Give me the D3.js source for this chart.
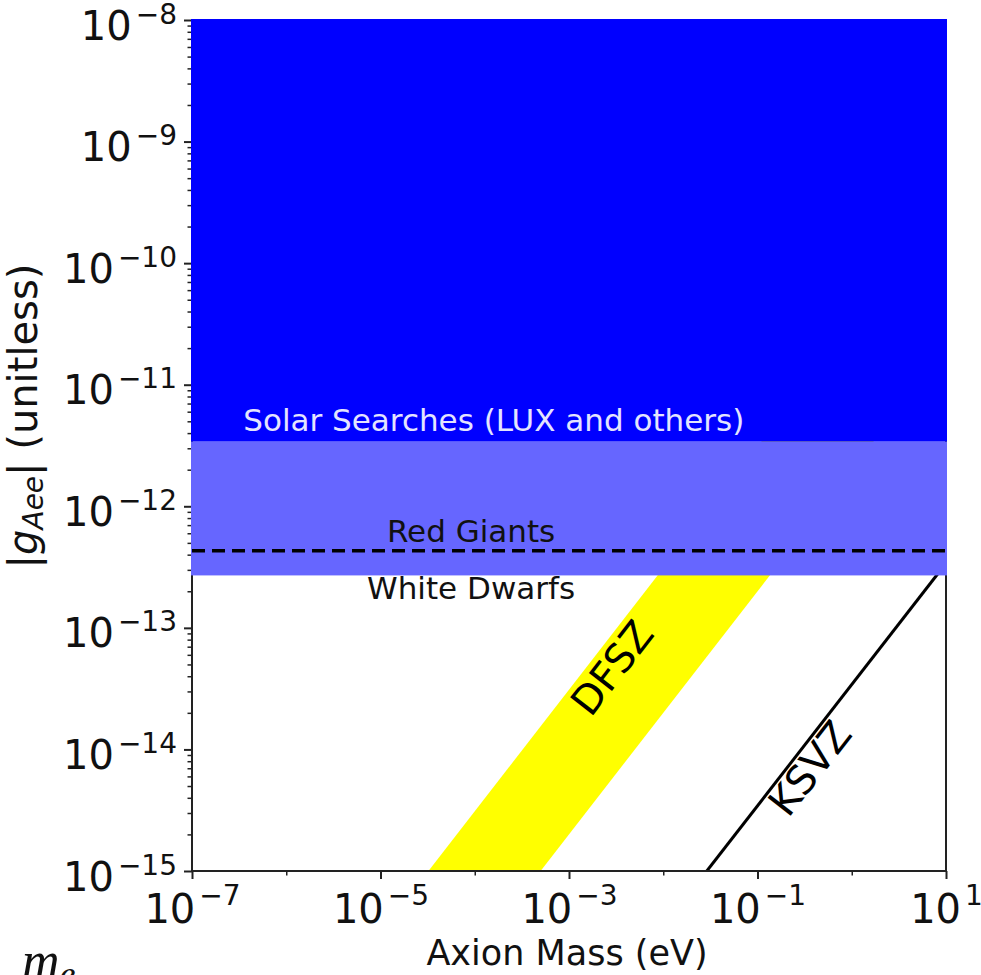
<!DOCTYPE html>
<html>
<head>
<meta charset="utf-8">
<script src="https://cdn.jsdelivr.net/npm/d3@7"></script>
<style>
  body { margin: 0; background: #fff; }
  svg { display: block; font-family: 'DejaVu Sans', sans-serif; }
</style>
</head>
<body>
<div id="chart"></div>
<script>
const WIDTH = 981;
const HEIGHT = 975;
const MARGIN = { top: 20, right: 35, bottom: 104, left: 192 };
const FONT = "'DejaVu Sans', sans-serif";

// tick decades
const xMajorExp = [-7, -5, -3, -1, 1];
const xMinorExp = [-6, -4, -2, 0];
const yMajorExp = [-8, -9, -10, -11, -12, -13, -14, -15];

// coupling limits |g_Aee|
const solarLimit = 3.4e-12; // solar searches (LUX and others)
const redGiantLimit = 4.3e-13;
const whiteDwarfLimit = 2.7e-13;

// DFSZ band: mass (eV), lower / upper coupling
const dfszMass = [3e-5, 10];
const dfszLow = [6e-17, 2.0e-11];
const dfszHigh = [9.3e-16, 3.1e-10];

// KSVZ line
const ksvzMass = [2.9e-2, 10];
const ksvzCoupling = [1e-15, 3.4e-13];

// text anchors in data space [mass, coupling]
const solarLabelPos = [3.5e-7, 4.2e-12];
const redGiantLabelPos = [1.17e-5, 5.1e-13];
const whiteDwarfLabelPos = [7.2e-6, 1.73e-13];
const dfszLabelPos = [2.86e-3, 4.68e-14];
const ksvzLabelPos = [0.36, 7.0e-15];

const innerW = WIDTH - MARGIN.left - MARGIN.right;
const innerH = HEIGHT - MARGIN.top - MARGIN.bottom;

const svg = d3.select('#chart').append('svg').attr('width', WIDTH).attr('height', HEIGHT);
svg.append('rect').attr('width', WIDTH).attr('height', HEIGHT).attr('fill', '#fff');

const x = d3.scaleLog().domain([1e-7, 10]).range([MARGIN.left, MARGIN.left + innerW]);
const y = d3.scaleLog().domain([1e-15, 1e-8]).range([MARGIN.top + innerH, MARGIN.top]);

svg.append('clipPath').attr('id', 'plot-clip')
  .append('rect')
  .attr('x', x.range()[0]).attr('y', y.range()[1])
  .attr('width', innerW).attr('height', innerH);

const plot = svg.append('g').attr('clip-path', 'url(#plot-clip)');

// DFSZ band
const band = dfszMass.map((m, i) => ({ m, lo: dfszLow[i], hi: dfszHigh[i] }));
plot.append('path')
  .datum(band)
  .attr('fill', '#ffff00')
  .attr('d', d3.area().x((d) => x(d.m)).y0((d) => y(d.lo)).y1((d) => y(d.hi)));

// KSVZ line
plot.append('path')
  .datum(ksvzMass.map((m, i) => ({ m, g: ksvzCoupling[i] })))
  .attr('fill', 'none')
  .attr('stroke', '#000')
  .attr('stroke-width', 3)
  .attr('d', d3.line().x((d) => x(d.m)).y((d) => y(d.g)));

// spines
svg.append('rect')
  .attr('x', x.range()[0]).attr('y', y.range()[1])
  .attr('width', innerW).attr('height', innerH)
  .attr('fill', 'none').attr('stroke', '#222').attr('stroke-width', 2);

// axes
const fmtSup = (sel, size, raise) => {
  sel.each(function (d) {
    const t = d3.select(this);
    const e = Math.round(Math.log10(d));
    t.text(null);
    t.append('tspan').text('10');
    t.append('tspan').attr('font-size', size).attr('dx', 4).attr('dy', -raise)
      .text(e < 0 ? `\u2212${-e}` : `${e}`);
  });
};

const xAxis = svg.append('g')
  .attr('transform', `translate(0,${y.range()[0]})`)
  .call(d3.axisBottom(x).tickValues(xMajorExp.map((e) => 10 ** e)).tickSize(8).tickSizeOuter(0));
xAxis.attr('font-family', FONT);
xAxis.select('.domain').remove();
xAxis.selectAll('.tick line').attr('stroke', '#222').attr('stroke-width', 2);
xAxis.selectAll('.tick text')
  .attr('y', 52).attr('dy', 0)
  .attr('font-size', 40).attr('fill', '#111')
  .call(fmtSup, 28, 18);

const xMinor = svg.append('g')
  .attr('transform', `translate(0,${y.range()[0]})`)
  .call(d3.axisBottom(x).tickValues(xMinorExp.map((e) => 10 ** e)).tickSize(4.5).tickFormat(''));
xMinor.select('.domain').remove();
xMinor.selectAll('.tick line').attr('stroke', '#222').attr('stroke-width', 1.5);

const yMajorVals = yMajorExp.map((e) => 10 ** e);
const yAxis = svg.append('g')
  .attr('transform', `translate(${x.range()[0]},0)`)
  .call(d3.axisLeft(y).tickValues(yMajorVals).tickSize(8).tickPadding(7));
yAxis.attr('font-family', FONT);
yAxis.select('.domain').remove();
yAxis.selectAll('.tick line').attr('stroke', '#222').attr('stroke-width', 2);
yAxis.selectAll('.tick text')
  .attr('dy', 19)
  .attr('font-size', 40).attr('fill', '#111')
  .call(fmtSup, 28, 16);

const yMinorVals = y.ticks().filter((v) => !yMajorVals.some((m) => Math.abs(m - v) / m < 1e-6));
const yMinor = svg.append('g')
  .attr('transform', `translate(${x.range()[0]},0)`)
  .call(d3.axisLeft(y).tickValues(yMinorVals).tickSize(4.5).tickFormat(''));
yMinor.select('.domain').remove();
yMinor.selectAll('.tick line').attr('stroke', '#222').attr('stroke-width', 1.5);

// excluded regions, drawn over spines like the original
const x0 = x.range()[0] - 1;
const x1 = x.range()[1] + 1;
svg.append('rect')
  .attr('x', x0).attr('width', x1 - x0)
  .attr('y', y(1e-8) - 1).attr('height', y(solarLimit) - y(1e-8) + 1)
  .attr('fill', '#0000ff');
svg.append('rect')
  .attr('x', x0).attr('width', x1 - x0)
  .attr('y', y(solarLimit)).attr('height', y(whiteDwarfLimit) - y(solarLimit))
  .attr('fill', '#6666ff');

// red giants dashed line
svg.append('line')
  .attr('x1', x.range()[0]).attr('x2', x.range()[1])
  .attr('y1', y(redGiantLimit)).attr('y2', y(redGiantLimit))
  .attr('stroke', '#000').attr('stroke-width', 3.5)
  .attr('stroke-dasharray', '13,7');

// labels
const label = (pos, txt, color) => svg.append('text')
  .attr('x', x(pos[0])).attr('y', y(pos[1]))
  .attr('font-size', 31).attr('fill', color)
  .text(txt);
label(solarLabelPos, 'Solar Searches (LUX and others)', '#e4e4ff');
label(redGiantLabelPos, 'Red Giants', '#111');
label(whiteDwarfLabelPos, 'White Dwarfs', '#111');

const slopeAngle = (ms, gs) => Math.atan2(y(gs[1]) - y(gs[0]), x(ms[1]) - x(ms[0])) * 180 / Math.PI;
const rotLabel = (pos, txt, angle) => svg.append('text')
  .attr('transform', `translate(${x(pos[0])},${y(pos[1])}) rotate(${angle})`)
  .attr('text-anchor', 'middle')
  .attr('dominant-baseline', 'central')
  .attr('font-size', 40).attr('fill', '#000')
  .text(txt);
rotLabel(dfszLabelPos, 'DFSZ', slopeAngle(dfszMass, dfszHigh));
rotLabel(ksvzLabelPos, 'KSVZ', slopeAngle(ksvzMass, ksvzCoupling));

// axis titles
svg.append('text')
  .attr('x', (x.range()[0] + x.range()[1]) / 2 - 2)
  .attr('y', 965)
  .attr('text-anchor', 'middle')
  .attr('font-size', 35).attr('fill', '#111')
  .text('Axion Mass (eV)');

const yTitle = svg.append('text')
  .attr('transform', 'translate(37,416) rotate(-90)')
  .attr('text-anchor', 'middle')
  .attr('font-size', 40).attr('fill', '#111');
yTitle.append('tspan').text('|');
yTitle.append('tspan').attr('font-style', 'italic').text('g');
yTitle.append('tspan').attr('font-style', 'italic').attr('font-size', 28).attr('dy', 6).text('Aee');
yTitle.append('tspan').attr('dy', -6).text('| (unitless)');

// stray math fragment cut off at the bottom edge
const stray = svg.append('text')
  .attr('x', 22).attr('y', 978)
  .attr('font-family', "'Liberation Serif', serif")
  .attr('font-style', 'italic')
  .attr('font-size', 52).attr('fill', '#111');
stray.append('tspan').text('m');
stray.append('tspan').attr('font-size', 36).attr('dy', 8).text('e');
</script>
</body>
</html>
